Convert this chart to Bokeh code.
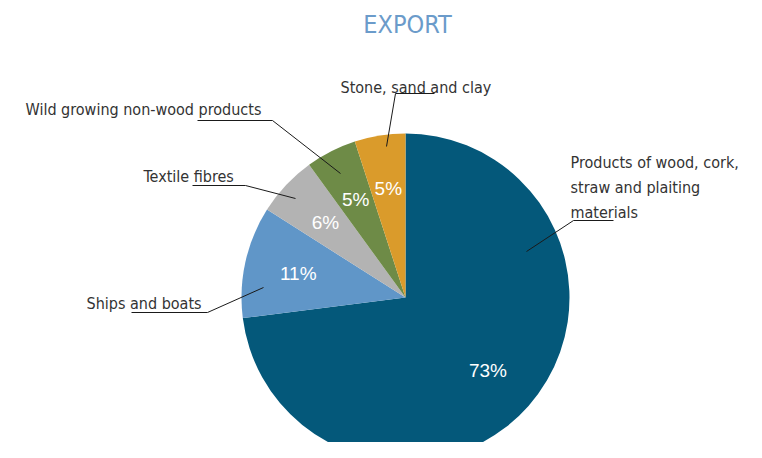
import math
from bokeh.plotting import figure
from bokeh.models import Range1d, ColumnDataSource
from bokeh.core.properties import value
from bokeh.embed import file_html
from bokeh.resources import INLINE

# ---- data ----
title_text = "EXPORT"
categories = [
    "Products of wood, cork, straw and plaiting materials",
    "Ships and boats",
    "Textile fibres",
    "Wild growing non-wood products",
    "Stone, sand and clay",
]
shares = [73, 11, 6, 5, 5]
pct_labels = ["73%", "11%", "6%", "5%", "5%"]

# ---- style / layout ----
colors = ["#04587A", "#6096C8", "#B3B3B3", "#6E8B47", "#DA9B2B"]
W, H = 746, 442


def Y(sy):
    return H - sy


CX, CY, R = 405, Y(297), 164
LABEL_FONT = "DejaVu Sans Condensed"
PCT_FONT = "Liberation Sans"

# wrapped label lines, text anchor (left, first baseline), leader polyline (screen coords)
label_layout = [
    (["Products of wood, cork,", "straw and plaiting", "materials"], (570, 162),
     [(613, 220), (573, 220), (526, 251)]),
    (["Ships and boats"], (86, 303), [(131, 312), (207, 312), (263, 287)]),
    (["Textile fibres"], (143, 176), [(192, 185), (245, 185), (295, 198)]),
    (["Wild growing non-wood products"], (25, 109), [(197, 120), (272, 120), (340, 173)]),
    (["Stone, sand and clay"], (340, 87), [(434, 93), (395, 93), (386, 146)]),
]
LINE_STEP = 25

p = figure(width=W, height=H, output_backend="svg", toolbar_location=None,
           x_range=Range1d(0, W), y_range=Range1d(0, H),
           min_border=0, outline_line_color=None)
p.axis.visible = False
p.grid.visible = False
p.background_fill_color = "white"
p.border_fill_color = "white"

total = float(sum(shares))
starts, ends, mids = [], [], []
cum = 0.0
for v in shares:
    a0 = math.pi / 2 - 2 * math.pi * cum / total
    a1 = math.pi / 2 - 2 * math.pi * (cum + v) / total
    starts.append(a0)
    ends.append(a1)
    mids.append((a0 + a1) / 2)
    cum += v

src = ColumnDataSource(dict(start=starts, end=ends, color=colors, cat=categories))
p.wedge(x=CX, y=CY, radius=R, start_angle="start", end_angle="end",
        direction="clock", fill_color="color", line_color=None, source=src)

# percentage labels
rr = 0.67 * R
p.text(x=[CX + rr * math.cos(a) for a in mids], y=[CY + rr * math.sin(a) for a in mids],
       text=pct_labels, text_color="white", text_font=value(PCT_FONT),
       text_font_size="19px", text_align="center", text_baseline="middle")

# external labels + leaders
tx, ty, tt = [], [], []
for lines, (lx, ly), leader in label_layout:
    for i, ln in enumerate(lines):
        tx.append(lx)
        ty.append(Y(ly + i * LINE_STEP))
        tt.append(ln)
    p.line(x=[pt[0] for pt in leader], y=[Y(pt[1]) for pt in leader],
           line_color="#1a1a1a", line_width=1)

p.text(x=tx, y=ty, text=tt, text_color="#333333", text_font=value(LABEL_FONT),
       text_font_size="16px", text_align="left", text_baseline="alphabetic")

# title
p.text(x=[407], y=[Y(24)], text=[title_text], text_color="#6B9BCA",
       text_font=value(LABEL_FONT), text_font_size="25px",
       text_align="center", text_baseline="middle")

open("out.html", "w").write(file_html(p, INLINE))
